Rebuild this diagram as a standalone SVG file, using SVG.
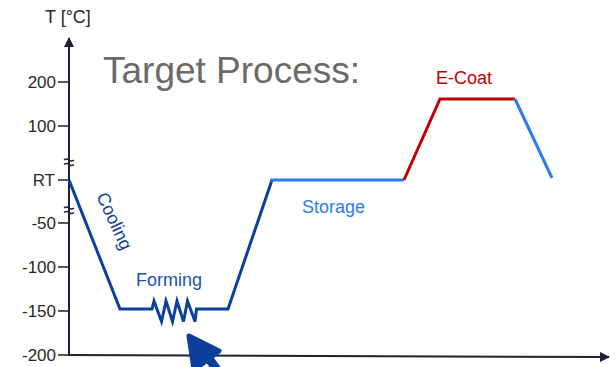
<svg xmlns="http://www.w3.org/2000/svg" width="616" height="367" viewBox="0 0 616 367">
<defs>
<style>
.ax{stroke:#1c2233;stroke-width:2;fill:none}
.tick{stroke:#1c2233;stroke-width:1.5}
.lbl{font-family:"Liberation Sans",Arial,sans-serif;font-size:17px;fill:#2a2a2a;text-anchor:end}
.dk{stroke:#0c3f9c;stroke-width:3;fill:none;stroke-linejoin:miter}
.lt{stroke:#2b7cf2;stroke-width:3;fill:none}
.rd{stroke:#c00000;stroke-width:3;fill:none}
.brk{stroke:#1c2233;stroke-width:1.5;fill:none}
.t{font-family:"Liberation Sans",Arial,sans-serif;font-size:18px}
</style>
<marker id="ah" viewBox="0 0 10 10" refX="9" refY="5" markerWidth="5" markerHeight="5" orient="auto" markerUnits="strokeWidth">
<path d="M0,0 L10,5 L0,10 Z" fill="#1c2233"/>
</marker>
</defs>
<rect width="616" height="367" fill="#ffffff"/>
<g id="axes">
<line class="ax" x1="69" y1="355" x2="69" y2="38" marker-end="url(#ah)"/>
<line class="ax" x1="68" y1="355" x2="609" y2="357" marker-end="url(#ah)"/>
<line class="tick" x1="58" y1="82" x2="69" y2="82"/>
<line class="tick" x1="58" y1="126" x2="69" y2="126"/>
<line class="tick" x1="58" y1="180" x2="69" y2="180"/>
<line class="tick" x1="58" y1="223" x2="69" y2="223"/>
<line class="tick" x1="58" y1="267" x2="69" y2="267"/>
<line class="tick" x1="58" y1="311" x2="69" y2="311"/>
<line class="tick" x1="58" y1="355" x2="69" y2="355"/>
<path class="brk" d="M64,160 q2.5,-2 5,0 t5,0 M64,164.5 q2.5,-2 5,0 t5,0"/>
<path class="brk" d="M64,208 q2.5,-2 5,0 t5,0 M64,212.5 q2.5,-2 5,0 t5,0"/>
<text class="lbl" x="56" y="88">200</text>
<text class="lbl" x="56" y="132">100</text>
<text class="lbl" x="55" y="186">RT</text>
<text class="lbl" x="56" y="229">-50</text>
<text class="lbl" x="56" y="273">-100</text>
<text class="lbl" x="56" y="317">-150</text>
<text class="lbl" x="56" y="361">-200</text>
<text class="lbl" x="45" y="23" style="text-anchor:start;font-size:18px">T [°C]</text>
</g>
<g id="title">
<text x="103" y="83" font-family="'Liberation Sans',Arial,sans-serif" font-size="37" fill="#6a6a6a">Target Process:</text>
</g>
<g id="connectors">
<polyline class="dk" points="69,180 120,309 152,309 154,301 161.5,321.5 166,301 172.5,321.5 177,301 183.5,321.5 187.5,301 195,321.5 196.5,309 228,309 272,180"/>
<polyline class="lt" points="270.5,180 404,180"/>
<polyline class="rd" points="404,180 440,99 515,99"/>
<polyline class="lt" points="515,99 552,178"/>
</g>
<g id="cooling">
<text class="t" fill="#0c3f9c" transform="translate(96,196) rotate(65)">Cooling</text>
</g>
<g id="forming">
<text class="t" fill="#1f4fae" x="136" y="286">Forming</text>
</g>
<g id="storage">
<text class="t" fill="#2b7cf2" x="302" y="213">Storage</text>
</g>
<g id="ecoat">
<text class="t" fill="#c00000" x="436" y="84">E-Coat</text>
</g>
<g id="pointer">
<line x1="204" y1="352" x2="232" y2="390" stroke="#0c3f9c" stroke-width="9" stroke-linecap="round"/>
<polygon points="189,336 219,351 194,370" fill="#0c3f9c" stroke="#0c3f9c" stroke-width="5" stroke-linejoin="round"/>
</g>
</svg>
